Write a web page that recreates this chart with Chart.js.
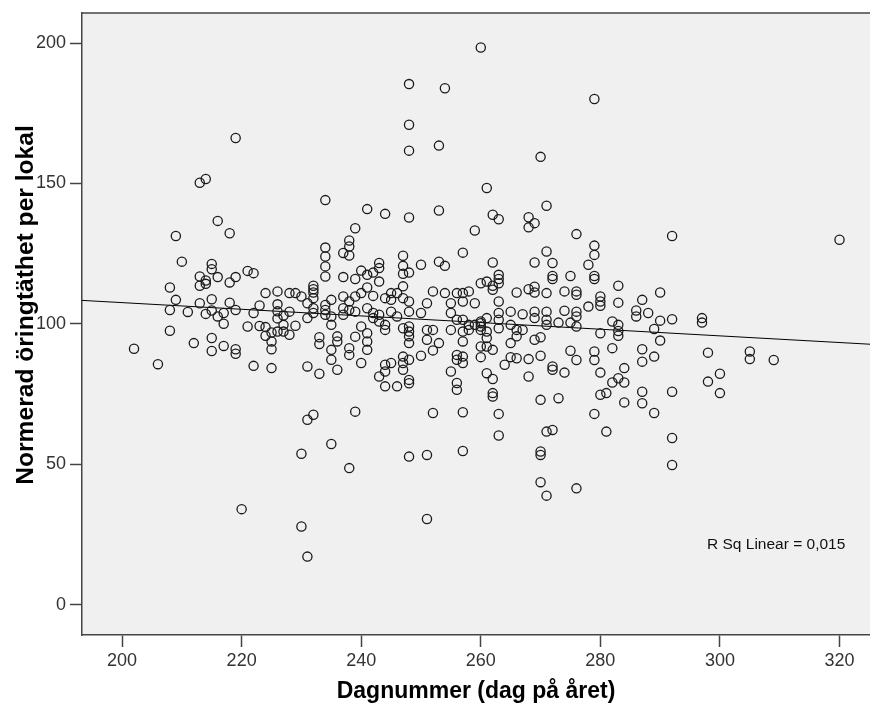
<!DOCTYPE html>
<html>
<head>
<meta charset="utf-8">
<script src="https://cdn.jsdelivr.net/npm/chart.js@4.4.1/dist/chart.umd.min.js"></script>
<style>
  body { margin: 0; background: #fff; }
  #wrap { width: 870px; height: 703px; }
</style>
</head>
<body>
<div id="wrap"><canvas id="spridning"></canvas></div>
<script>
// dagnummer och normerad öringtäthet, en lista med värden per dag
const dagnummer = [
  202, 206, 208, 209, 210, 211, 212, 213, 214, 215, 216, 217, 218, 219, 220,
  221, 222, 223, 224, 225, 226, 227, 228, 229, 230, 231, 232, 233, 234, 235,
  236, 237, 238, 239, 240, 241, 242, 243, 244, 245, 246, 247, 248, 250, 251,
  252, 253, 254, 255, 256, 257, 258, 259, 260, 261, 262, 263, 264, 265, 266,
  267, 268, 269, 270, 271, 272, 273, 274, 275, 276, 278, 279, 280, 281, 282,
  283, 284, 286, 287, 288, 289, 290, 292, 297, 298, 300, 305, 309, 320
];
const taethetPerDag = [
  [91.2], [85.7], [113.0, 105.0, 97.6], [131.3, 108.6], [122.2], [104.3], [93.2],
  [150.3, 116.9, 113.6, 107.4], [151.6, 115.5, 114.3, 103.6],
  [121.4, 119.5, 108.8, 104.8, 95.0, 90.4], [136.7, 116.7, 102.7],
  [103.9, 100.1, 92.2], [132.3, 114.8, 107.6], [166.2, 116.7, 105.0, 91.0, 89.4],
  [34.1],
  [118.9, 99.1], [118.1, 103.9, 85.1], [106.6, 99.3], [111.0, 98.9, 95.8],
  [97.0, 93.8, 91.0, 84.3], [111.6, 107.0, 104.5, 102.0, 97.3], [103.0, 99.7, 97.3],
  [111.0, 104.4, 96.2], [111.0, 99.4], [109.8, 53.8, 27.9],
  [107.4, 102.1, 84.9, 65.9, 17.2], [113.6, 112.4, 111.2, 109.2, 105.6, 103.9, 67.7],
  [95.3, 92.9, 82.3], [144.1, 127.2, 124.0, 120.5, 116.9, 106.8, 105.0, 103.3],
  [108.6, 102.7, 99.7, 90.8, 87.3, 57.3],
  [95.6, 93.8, 83.7], [125.3, 116.7, 109.8, 105.6, 103.3],
  [129.7, 127.6, 124.4, 108.0, 105.0, 91.4, 89.0, 48.7],
  [134.1, 116.0, 109.8, 104.4, 95.5, 68.8], [119.0, 111.0, 99.1, 86.1],
  [140.9, 117.5, 113.0, 105.6, 96.7, 93.8, 90.8], [118.3, 110.0, 103.9, 102.1],
  [121.7, 119.9, 115.1, 103.3, 100.9, 81.3],
  [139.2, 109.2, 99.7, 97.9, 85.5, 83.1, 77.8], [111.0, 108.6, 104.4, 86.1],
  [111.0, 102.7, 77.8], [124.3, 120.7, 117.9, 113.4, 109.2, 98.5, 88.4, 86.1, 83.7],
  [185.4, 170.9, 161.7, 137.9, 118.3, 108.0, 104.4, 99.1, 97.3, 95.6, 93.2, 87.3, 80.1, 78.9, 52.8],
  [121.1, 103.9, 88.7], [107.4, 97.9, 94.4, 53.4, 30.6],
  [111.6, 97.9, 90.6, 68.3], [163.5, 140.4, 122.2, 93.2], [183.9, 120.7, 111.0],
  [107.4, 103.9, 97.9, 83.1], [111.0, 101.5, 89.0, 87.3, 79.0, 76.6],
  [125.4, 111.0, 108.0, 101.5, 97.3, 93.8, 88.4, 86.1, 68.6, 54.8],
  [111.6, 99.7, 97.9], [133.3, 107.4, 99.7],
  [198.4, 114.5, 100.9, 100.3, 99.1, 97.9, 92.0, 88.2],
  [148.4, 115.1, 102.1, 97.3, 95.0, 92.0, 82.5],
  [138.9, 121.9, 113.6, 112.2, 90.8, 80.4, 75.4, 74.2],
  [137.3, 117.5, 116.0, 114.5, 108.0, 103.9, 101.5, 98.5, 68.0, 60.3],
  [85.5], [104.4, 99.7, 93.2, 88.2], [111.2, 97.9, 95.6, 87.8],
  [103.5, 97.9], [138.0, 134.4, 112.4, 87.5, 81.3],
  [135.9, 121.9, 113.3, 111.2, 104.4, 102.1, 94.4],
  [159.5, 95.3, 88.7, 73.0, 54.6, 53.4, 43.7],
  [142.1, 125.8, 111.0, 104.4, 101.5, 99.7, 61.7, 38.9],
  [121.7, 117.1, 116.0, 84.9, 83.7, 62.3], [100.5, 73.6], [111.6, 104.7, 82.7],
  [117.1, 100.5, 90.5], [132.0, 111.6, 110.4, 104.4, 102.7, 99.1, 87.2, 41.5],
  [121.1, 106.2], [180.1, 127.9, 124.6, 117.1, 116.0, 90.2, 87.2, 68.0],
  [109.8, 108.0, 106.5, 96.7, 82.7, 74.8], [75.4, 61.7], [100.9, 91.4, 79.2],
  [113.6, 107.6, 99.7, 97.5, 95.8, 80.7], [84.3, 79.2, 72.1], [104.8, 102.7],
  [108.6, 91.0, 86.6, 75.9, 71.8], [103.9], [98.2, 88.4, 68.3], [111.2, 101.2, 94.1],
  [131.3, 101.7, 75.9, 59.4, 49.8], [102.1, 100.5], [89.8, 79.5], [82.3, 75.4],
  [90.2, 87.5], [87.2], [130.0]
];

const xTicks = [200, 220, 240, 260, 280, 300, 320];
const yTicks = [0, 50, 100, 150, 200];

// anpassad linje (start- och slutpunkt)
const fitDagar = [193.3, 325.1];
const fitVarden = [108.4, 92.8];
const rSqText = "R Sq Linear = 0,015";
const yTitel = "Normerad öringtäthet per lokal";

const punkter = [];
dagnummer.forEach((dag, i) => {
  for (const v of taethetPerDag[i]) punkter.push({ x: dag, y: v });
});

const linje = fitDagar.map((d, i) => ({ x: d, y: fitVarden[i] }));

const plotBakgrund = {
  id: "plotBakgrund",
  beforeDraw(chart) {
    const { ctx, chartArea: a } = chart;
    ctx.save();
    ctx.fillStyle = "#f0f0f0";
    ctx.fillRect(a.left, a.top, a.right - a.left, a.bottom - a.top);
    ctx.restore();
  },
  afterDraw(chart) {
    const { ctx, chartArea: a } = chart;
    ctx.save();
    ctx.strokeStyle = "#444";
    ctx.lineWidth = 1.5;
    ctx.beginPath();
    ctx.moveTo(a.left, a.top);
    ctx.lineTo(a.right, a.top);
    ctx.stroke();

    ctx.fillStyle = "#111";
    ctx.font = "15.5px 'Liberation Sans', Arial, sans-serif";
    ctx.textBaseline = "middle";
    ctx.fillText(rSqText, 707, 545);

    // y-axelns titel, lite ovanför mitten som i SPSS
    ctx.translate(33, 305);
    ctx.rotate(-Math.PI / 2);
    ctx.scale(1.07, 1);
    ctx.fillStyle = "#000";
    ctx.font = "bold 23px 'Liberation Sans', Arial, sans-serif";
    ctx.textAlign = "center";
    ctx.textBaseline = "alphabetic";
    ctx.fillText(yTitel, 0, 0);
    ctx.restore();
  },
};

const tickFont = { family: "'Liberation Sans', Arial, sans-serif", size: 18 };
const titleFont = { family: "'Liberation Sans', Arial, sans-serif", size: 23, weight: "bold", lineHeight: 1 };

new Chart(document.getElementById("spridning"), {
  type: "scatter",
  data: {
    datasets: [
      {
        data: punkter,
        pointStyle: "circle",
        pointRadius: 4.6,
        pointHoverRadius: 4.6,
        borderWidth: 1.3,
        borderColor: "#1a1a1a",
        backgroundColor: "rgba(0,0,0,0)",
      },
      {
        type: "line",
        data: linje,
        borderColor: "#000",
        borderWidth: 1,
        pointRadius: 0,
        fill: false,
      },
    ],
  },
  options: {
    responsive: true,
    maintainAspectRatio: false,
    animation: false,
    layout: { autoPadding: false, padding: { top: 13, right: 0, left: 0, bottom: 0 } },
    plugins: {
      legend: { display: false },
      tooltip: { enabled: false },
    },
    scales: {
      x: {
        type: "linear",
        min: 193.3,
        max: 325.1,
        afterBuildTicks: (s) => { s.ticks = xTicks.map((v) => ({ value: v })); },
        afterFit: (s) => { s.height = 68; s.paddingLeft = 0; s.paddingRight = 0; },
        grid: { drawOnChartArea: false, drawTicks: true, tickLength: 12, tickColor: "#444", tickWidth: 1.5 },
        border: { display: true, color: "#444", width: 1.5 },
        ticks: { font: tickFont, color: "#333", padding: 3, maxRotation: 0 },
        title: {
          display: true,
          text: "Dagnummer (dag på året)",
          font: titleFont,
          color: "#000",
          padding: { top: 0, bottom: 0 },
        },
      },
      y: {
        type: "linear",
        min: -10.7,
        max: 210.7,
        afterBuildTicks: (s) => { s.ticks = yTicks.map((v) => ({ value: v })); },
        afterFit: (s) => { s.width = 82; s.paddingTop = 0; s.paddingBottom = 0; },
        grid: { drawOnChartArea: false, drawTicks: true, tickLength: 12, tickColor: "#444", tickWidth: 1.5 },
        border: { display: true, color: "#444", width: 1.5 },
        ticks: { font: tickFont, color: "#333", padding: 4 },
        title: { display: false },
      },
    },
  },
  plugins: [plotBakgrund],
});
</script>
</body>
</html>
